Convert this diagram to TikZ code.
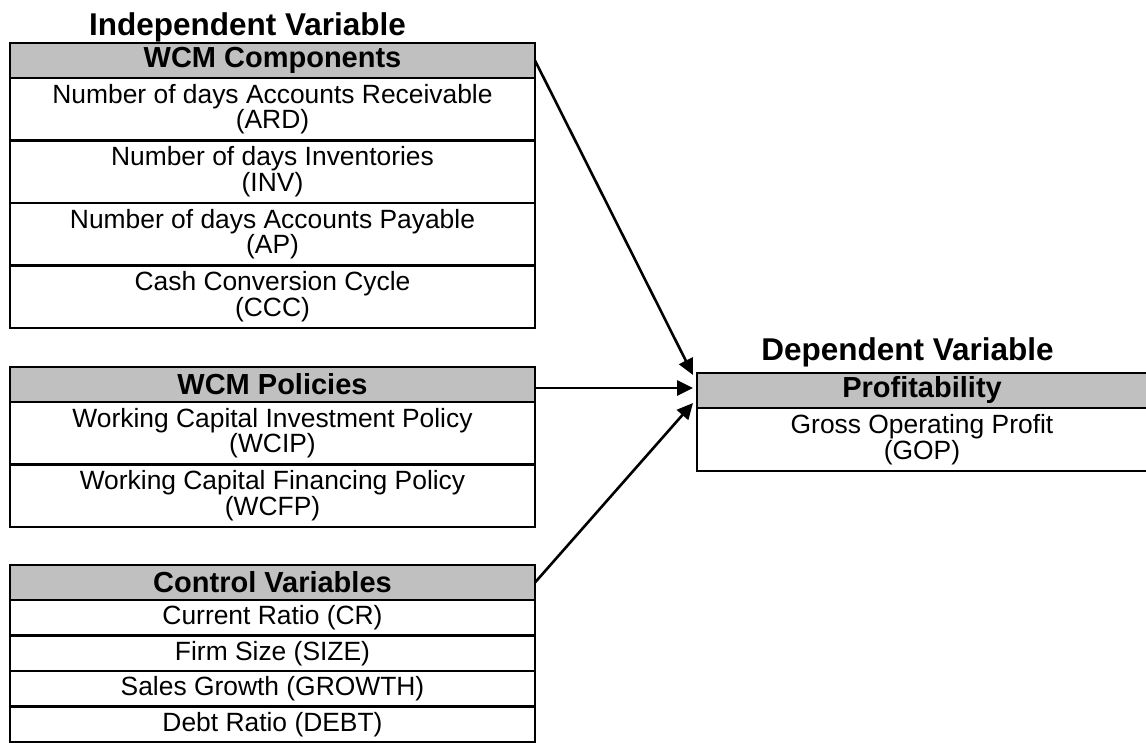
\documentclass[tikz,border=0pt]{standalone}
\usepackage{fontspec}
\setmainfont{Liberation Sans}
\usetikzlibrary{arrows.meta,positioning,calc}

\definecolor{hdrgray}{RGB}{192,192,192}
\newcommand{\cellfont}{\fontsize{13.2}{12.75}\selectfont}
\newcommand{\headfont}{\fontsize{14.5}{15}\selectfont\bfseries}
\newcommand{\titlefont}{\fontsize{15.75}{17}\selectfont\bfseries}

\begin{document}
\begin{tikzpicture}[
  cell/.style={
    rectangle, draw, line width=1.45pt, outer sep=0pt, inner sep=0pt,
    align=center, font=\cellfont},
  hdr/.style={cell, fill=hdrgray, minimum height=17.5pt, font=\headfont},
  left/.style={minimum width=262.5pt},
  right/.style={minimum width=225pt},
  title/.style={font=\titlefont, anchor=base, inner sep=0pt},
  arr/.style={-{Triangle[length=8pt,width=7.5pt]}, line width=1.3pt},
]
  \useasboundingbox (0,0) rectangle (573pt,-371.5pt);

  % ── WCM components ───────────────────────────────────────────────────────
  \node[hdr, left, anchor=north west] (wcmHead) at (5pt,-21.5pt)
      {WCM Components};
  \node[cell, left, minimum height=31.25pt, below=0pt of wcmHead] (ard)
      {Number of days Accounts Receivable\\(ARD)};
  \node[cell, left, minimum height=31.25pt, below=0pt of ard]     (inv)
      {Number of days Inventories\\(INV)};
  \node[cell, left, minimum height=31.25pt, below=0pt of inv]     (ap)
      {Number of days Accounts Payable\\(AP)};
  \node[cell, left, minimum height=31.25pt, below=0pt of ap]      (ccc)
      {Cash Conversion Cycle\\(CCC)};

  \node[title] (indep) at ([xshift=-12.5pt, yshift=3.5pt]wcmHead.north)
      {Independent Variable};

  % ── WCM policies ─────────────────────────────────────────────────────────
  \node[hdr, left, anchor=north west] (polHead) at (5pt,-183.5pt)
      {WCM Policies};
  \node[cell, left, minimum height=31.25pt, below=0pt of polHead] (wcip)
      {Working Capital Investment Policy\\(WCIP)};
  \node[cell, left, minimum height=31.25pt, below=0pt of wcip]    (wcfp)
      {Working Capital Financing Policy\\(WCFP)};

  % ── Control variables ────────────────────────────────────────────────────
  \node[hdr, left, anchor=north west] (ctrlHead) at (5pt,-282.5pt)
      {Control Variables};
  \node[cell, left, minimum height=17.75pt, below=0pt of ctrlHead] (cr)
      {Current Ratio (CR)};
  \node[cell, left, minimum height=17.75pt, below=0pt of cr]       (size)
      {Firm Size (SIZE)};
  \node[cell, left, minimum height=17.75pt, below=0pt of size]     (growth)
      {Sales Growth (GROWTH)};
  \node[cell, left, minimum height=17.75pt, below=0pt of growth]   (debt)
      {Debt Ratio (DEBT)};

  % ── Profitability (dependent) ────────────────────────────────────────────
  \node[hdr, right, anchor=north west] (profHead) at (348.5pt,-186.5pt)
      {Profitability};
  \node[cell, right, minimum height=31.5pt, below=0pt of profHead] (gop)
      {Gross Operating Profit\\(GOP)};

  \node[title] (dep) at ([xshift=-7.25pt, yshift=6.5pt]profHead.north)
      {Dependent Variable};

  % ── Links into profitability ─────────────────────────────────────────────
  \draw[arr] (wcmHead.east) -- ($(profHead.north west)+(-2pt,-1pt)$);
  \draw[arr] ($(polHead.east)+(0,-1.75pt)$) --
      ($(polHead.east -| profHead.west)+(-2pt,-1.75pt)$);
  \draw[arr] (ctrlHead.east) -- ($(profHead.south west)+(-2pt,2.5pt)$);

\end{tikzpicture}
\end{document}
